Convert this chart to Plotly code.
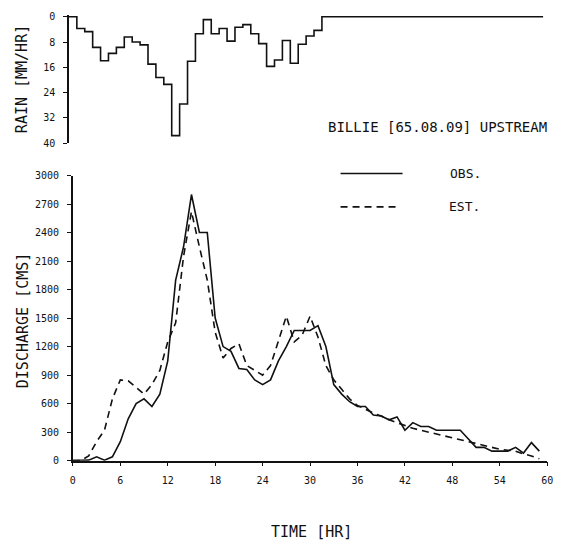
import plotly.graph_objects as go

# Hourly rainfall intensity (mm/hr), hours 0..59
rain = [0, 3.7, 4.7, 9.7, 13.9, 11.6, 9.7, 6.4, 8.0, 8.9,
        15.0, 19.2, 21.4, 37.6, 27.6, 14.1, 5.4, 0.9, 5.4, 3.7,
        7.7, 3.3, 2.5, 5.4, 8.5, 15.7, 13.7, 7.5, 14.7, 8.7,
        6.1, 4.3] + [0] * 28
rain_hours = list(range(61))

# Discharge (cms) at hourly steps
hours = list(range(60))
observed = [0, 0, 5, 40, 5, 40, 200, 440, 600, 650,
            570, 700, 1050, 1900, 2250, 2800, 2400, 2400, 1500, 1200,
            1150, 970, 960, 850, 800, 850, 1050, 1200, 1370, 1370,
            1370, 1420, 1200, 800, 700, 620, 570, 570, 480, 470,
            430, 460, 320, 400, 360, 360, 320, 320, 320, 320,
            230, 140, 140, 100, 100, 100, 140, 80, 190, 100]
estimated = [0, 0, 50, 200, 320, 650, 850, 840, 770, 700,
             800, 950, 1250, 1450, 2150, 2620, 2250, 1900, 1350, 1080,
             1180, 1230, 1000, 950, 900, 1000, 1250, 1520, 1250, 1320,
             1520, 1300, 1000, 850, 750, 650, 580, 540, 500, 470,
             430, 400, 370, 340, 320, 300, 280, 260, 240, 220,
             200, 180, 160, 140, 120, 110, 100, 70, 50, 20]

time_ticks = list(range(0, 61, 6))
rain_ticks = [0, 8, 16, 24, 32, 40]
q_ticks = list(range(0, 3001, 300))

W, H = 568, 547
FONT = "DejaVu Sans Mono"
ink = "#111111"

fig = go.Figure()

fig.add_trace(go.Scatter(
    x=rain_hours, y=rain + [rain[-1]], mode="lines", line_shape="hv",
    line=dict(color=ink, width=1.6), xaxis="x2", yaxis="y2", showlegend=False))

fig.add_trace(go.Scatter(
    x=hours, y=observed, mode="lines", name="OBS.",
    line=dict(color=ink, width=1.6), showlegend=False))
fig.add_trace(go.Scatter(
    x=hours, y=estimated, mode="lines", name="EST.",
    line=dict(color=ink, width=1.6, dash="7px,5px"), showlegend=False))


def px_x(p):
    return p / W


def px_y(p):
    return (H - p) / H


axis_common = dict(showgrid=False, zeroline=False, showline=True,
                   linecolor=ink, linewidth=1.5, ticks="outside",
                   ticklen=4, tickcolor=ink, tickwidth=1.2,
                   ticklabelstandoff=6,
                   tickfont=dict(family=FONT, size=10, color=ink))

# Rain axis gets a little headroom above zero so the zero line is not clipped
rain_pad = 0.4
rain_px_per_unit = (141 - 12) / 40

fig.update_layout(
    width=W, height=H, margin=dict(l=0, r=0, t=0, b=0),
    paper_bgcolor="white", plot_bgcolor="white",
    xaxis=dict(domain=[px_x(71), px_x(553)], range=[0, 60],
               tickvals=time_ticks, anchor="y", **axis_common),
    yaxis=dict(domain=[px_y(465), px_y(174)], range=[0, 3000],
               tickvals=q_ticks, anchor="x", **axis_common),
    xaxis2=dict(domain=[px_x(67), px_x(549)], range=[0, 60],
                visible=False, anchor="y2"),
    yaxis2=dict(domain=[px_y(141), px_y(12 - rain_pad * rain_px_per_unit)],
                range=[40, -rain_pad],
                tickvals=rain_ticks, anchor="x2", **axis_common),
)

# Legend drawn as plain line samples with labels
fig.add_shape(type="line", xref="paper", yref="paper",
              x0=px_x(343), x1=px_x(406), y0=px_y(172), y1=px_y(172),
              line=dict(color=ink, width=1.6))
fig.add_shape(type="line", xref="paper", yref="paper",
              x0=px_x(343), x1=px_x(402), y0=px_y(206), y1=px_y(206),
              line=dict(color=ink, width=1.6, dash="7px,5px"))

labels = [
    ("BILLIE [65.08.09] UPSTREAM", 442, 124, 0, 14),
    ("OBS.", 470, 172, 0, 13),
    ("EST.", 469, 206, 0, 13),
    ("TIME [HR]", 313, 538, 0, 15),
    ("RAIN [MM/HR]", 20, 76, -90, 15),
    ("DISCHARGE [CMS]", 20, 322, -90, 15),
]
for text, x, y, ang, size in labels:
    fig.add_annotation(text=text, xref="paper", yref="paper",
                       x=px_x(x), y=px_y(y), showarrow=False,
                       textangle=ang, xanchor="center", yanchor="middle",
                       font=dict(family=FONT, size=size, color=ink))

fig.write_html("out.html")
